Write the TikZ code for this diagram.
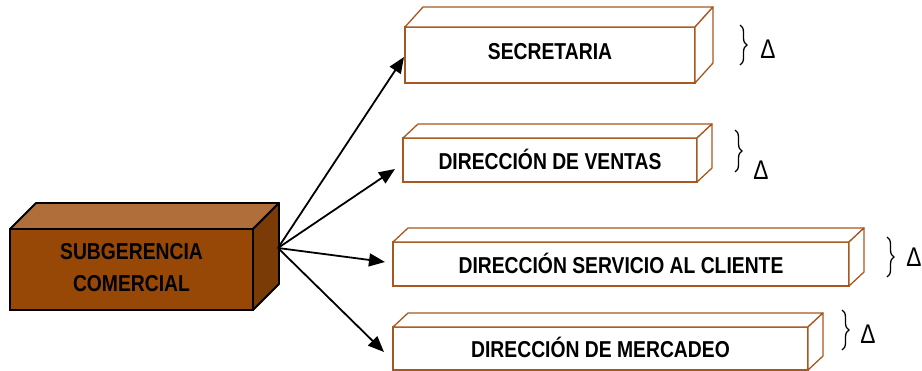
\documentclass[tikz,border=0pt]{standalone}
\usepackage{fontspec}
\setmainfont{Liberation Sans}[FakeStretch=0.84]
\usetikzlibrary{calc,arrows.meta,decorations.pathreplacing}
\definecolor{edgebrown}{RGB}{168,88,30}
\definecolor{frontbrown}{RGB}{151,72,6}
\definecolor{topbrown}{RGB}{176,110,58}
\definecolor{sidebrown}{RGB}{122,59,6}
\newcommand\boxsides[6]{%
  \filldraw[#4,fill=#5] (#1.north west) -- ($(#1.north west)+(#2,#3)$) -- ($(#1.north east)+(#2,#3)$) -- (#1.north east) -- cycle;
  \filldraw[#4,fill=#6] (#1.north east) -- ($(#1.north east)+(#2,#3)$) -- ($(#1.south east)+(#2,#3)$) -- (#1.south east) -- cycle;}
\tikzset{
  childbox/.style={draw=edgebrown, line width=1.3pt, fill=white, inner sep=0pt, outer sep=0pt,
    font=\fontsize{23}{28}\selectfont\bfseries},
  childside/.style={draw=edgebrown, line width=1.3pt, line join=round},
  mainside/.style={draw=black, line width=1.8pt, line join=round},
  mainbox/.style={draw=black, line width=1.8pt, fill=frontbrown, inner sep=0pt, outer sep=0pt,
    align=center, font=\fontsize{23}{32}\selectfont\bfseries},
  arr/.style={line width=1.8pt, -{Triangle[length=16pt,width=13pt]}},
  bracestyle/.style={line width=1.3pt, decorate, decoration={brace, amplitude=7pt}},
  deltalbl/.style={inner sep=0pt, font=\fontsize{27}{27}\selectfont}
}
\begin{document}
\begin{tikzpicture}[x=1pt,y=-1pt]
\useasboundingbox (0,0) rectangle (922,370);
% main box
\node[mainbox, minimum width=243pt, minimum height=81pt] (sub) at (131.5,269.5)
  {\raisebox{5pt}{\begin{tabular}{@{}c@{}}SUBGERENCIA\\COMERCIAL\end{tabular}}};
\boxsides{sub}{26}{-26}{mainside}{topbrown}{sidebrown}
\coordinate (hub) at ($(sub.north east)+(25,19)$);
% child boxes
\node[childbox, minimum width=290pt, minimum height=56pt] (sec) at (550,55) {\raisebox{8pt}{SECRETARIA}};
\boxsides{sec}{18}{-20}{childside}{white}{white}
\node[childbox, minimum width=294pt, minimum height=44pt] (ven) at (550,160) {\raisebox{2pt}{DIRECCIÓN DE VENTAS}};
\boxsides{ven}{15}{-14}{childside}{white}{white}
\node[childbox, minimum width=456pt, minimum height=44pt] (ser) at (621,264) {\raisebox{1pt}{DIRECCIÓN SERVICIO AL CLIENTE}};
\boxsides{ser}{15}{-14}{childside}{white}{white}
\node[childbox, minimum width=415pt, minimum height=43pt] (mer) at (600.5,348.5) {\raisebox{2pt}{DIRECCIÓN DE MERCADEO}};
\boxsides{mer}{15}{-14}{childside}{white}{white}
% arrows
\draw[arr] (hub) -- ($(sec.west)+(-1,2)$);
\draw[arr] (hub) -- ($(ven.west)+(-8,9)$);
\draw[arr] (hub) -- ($(ser.west)+(-8,-2)$);
\draw[arr] (hub) -- ($(mer.west)+(-9,3.5)$);
% braces and deltas
\draw[bracestyle] (740,25) -- (740,65);
\node[deltalbl] (d1) at (768,49) {Δ};
\draw[bracestyle] (735,130) -- (735,172);
\node[deltalbl] (d2) at (761,170) {Δ};
\draw[bracestyle] (887,237) -- (887,277);
\node[deltalbl] (d3) at (914,257) {Δ};
\draw[bracestyle] (842,310) -- (842,350);
\node[deltalbl] (d4) at (868,334) {Δ};
\end{tikzpicture}
\end{document}
